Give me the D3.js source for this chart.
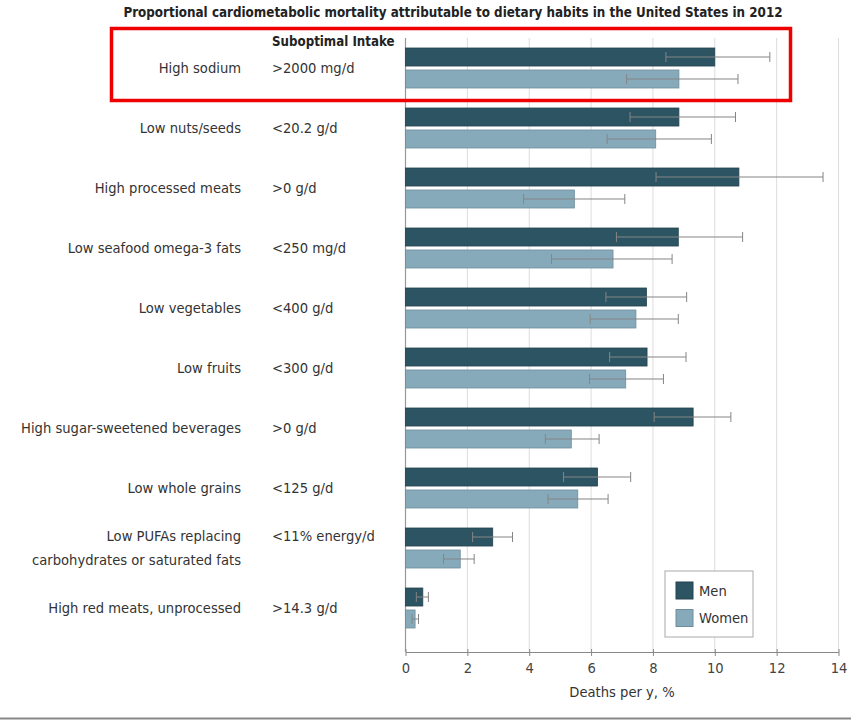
<!DOCTYPE html>
<html>
<head>
<meta charset="utf-8">
<script src="https://cdn.jsdelivr.net/npm/d3@7"></script>
<style>
body { margin: 0; background: #fff; }
svg { display: block; font-family: "Liberation Sans Narrow", "DejaVu Sans Condensed", sans-serif; }
</style>
</head>
<body>
<script>
// categories and intake thresholds
var categories = ["High sodium", "Low nuts/seeds", "High processed meats", "Low seafood omega-3 fats",
  "Low vegetables", "Low fruits", "High sugar-sweetened beverages", "Low whole grains",
  "Low PUFAs replacing|carbohydrates or saturated fats", "High red meats, unprocessed"];
var intake = [">2000 mg/d", "<20.2 g/d", ">0 g/d", "<250 mg/d", "<400 g/d", "<300 g/d",
  ">0 g/d", "<125 g/d", "<11% energy/d", ">14.3 g/d"];

// deaths per y, % (value, lower CI, upper CI)
var menVal   = [10.0, 8.84, 10.78, 8.82, 7.79, 7.81, 9.30, 6.21, 2.82, 0.56];
var menLow   = [8.42, 7.26, 8.10, 6.82, 6.48, 6.60, 8.04, 5.11, 2.17, 0.35];
var menHigh  = [11.78, 10.67, 13.50, 10.90, 9.09, 9.07, 10.52, 7.28, 3.46, 0.74];
var womenVal  = [8.84, 8.09, 5.46, 6.71, 7.45, 7.12, 5.36, 5.57, 1.77, 0.31];
var womenLow  = [7.15, 6.52, 3.82, 4.72, 5.97, 5.95, 4.52, 4.61, 1.23, 0.21];
var womenHigh = [10.75, 9.89, 7.09, 8.62, 8.82, 8.34, 6.26, 6.55, 2.22, 0.42];

var xTicks = [0, 2, 4, 6, 8, 10, 12, 14];
var groups = ["Men", "Women"];
var colors = {Men: "#2d5462", Women: "#87aabb"};
var strokes = {Men: "#24434e", Women: "#6d8d9b"};

var width = 851, height = 720;
var svg = d3.select("body").append("svg")
  .attr("width", width)
  .attr("height", height);

var x = d3.scaleLinear().domain([0, 14]).range([405.5, 838.5]);
var y = d3.scaleBand().domain(categories).range([38, 638])
  .paddingInner(1/3).paddingOuter(1/6);
var y1 = d3.scaleBand().domain(groups).range([0, 40]).paddingInner(0.18);

var plotTop = 38, plotBottom = 652;
var textColor = "#333";
var labelSize = "14.6px";

// title
svg.append("text")
  .attr("x", 453).attr("y", 17)
  .attr("text-anchor", "middle")
  .style("font-weight", "bold")
  .style("font-size", "13.3px")
  .style("fill", "#222")
  .text("Proportional cardiometabolic mortality attributable to dietary habits in the United States in 2012");

// gridlines
svg.append("g").selectAll("line")
  .data(xTicks.slice(1))
  .enter().append("line")
  .attr("x1", function(d){ return x(d); })
  .attr("x2", function(d){ return x(d); })
  .attr("y1", plotTop).attr("y2", plotBottom)
  .style("stroke", "#dcdcdc").style("stroke-width", 1);

svg.append("line")
  .attr("x1", x(0)).attr("x2", x(0))
  .attr("y1", plotTop).attr("y2", plotBottom)
  .style("stroke", "#999").style("stroke-width", 1.2);

// data rows
var rows = categories.map(function(c, i){
  return {cat: c, intake: intake[i], bars: [
    {g: "Men", v: menVal[i], lo: menLow[i], hi: menHigh[i]},
    {g: "Women", v: womenVal[i], lo: womenLow[i], hi: womenHigh[i]}
  ]};
});

var row = svg.append("g").selectAll("g")
  .data(rows)
  .enter().append("g")
  .attr("transform", function(d){ return "translate(0," + y(d.cat) + ")"; });

row.selectAll("rect")
  .data(function(d){ return d.bars; })
  .enter().append("rect")
  .attr("x", x(0))
  .attr("y", function(d){ return y1(d.g); })
  .attr("width", function(d){ return x(d.v) - x(0); })
  .attr("height", y1.bandwidth())
  .style("fill", function(d){ return colors[d.g]; })
  .style("stroke", function(d){ return strokes[d.g]; })
  .style("stroke-width", 0.8);

var err = row.selectAll("g.err")
  .data(function(d){ return d.bars; })
  .enter().append("g")
  .attr("class", "err")
  .attr("transform", function(d){ return "translate(0," + (y1(d.g) + y1.bandwidth()/2) + ")"; })
  .style("stroke", "#858585").style("stroke-width", 1);
err.append("line")
  .attr("x1", function(d){ return x(d.lo); })
  .attr("x2", function(d){ return x(d.hi); });
err.append("line")
  .attr("x1", function(d){ return x(d.lo); })
  .attr("x2", function(d){ return x(d.lo); })
  .attr("y1", -5).attr("y2", 5);
err.append("line")
  .attr("x1", function(d){ return x(d.hi); })
  .attr("x2", function(d){ return x(d.hi); })
  .attr("y1", -5).attr("y2", 5);

// category labels
row.each(function(d){
  var lines = d.cat.split("|");
  var g = d3.select(this);
  var cy = y.bandwidth()/2;
  var t = g.append("text")
    .attr("x", 241)
    .attr("text-anchor", "end")
    .style("font-size", labelSize)
    .style("fill", textColor);
  lines.forEach(function(l, k){
    t.append("tspan")
      .attr("x", 241)
      .attr("y", cy + (k - (lines.length - 1)/2) * 24)
      .attr("dy", "0.35em")
      .text(l);
  });
  g.append("text")
    .attr("x", 272)
    .attr("y", cy - (lines.length - 1) * 12)
    .attr("dy", "0.35em")
    .style("font-size", labelSize)
    .style("fill", textColor)
    .text(d.intake);
});

svg.append("text")
  .attr("x", 272).attr("y", 41)
  .attr("dy", "0.35em")
  .style("font-size", "13.2px")
  .style("font-weight", "bold")
  .style("fill", "#222")
  .text("Suboptimal Intake");

// x axis
var xAxis = svg.append("g")
  .attr("transform", "translate(0," + plotBottom + ")")
  .call(d3.axisBottom(x).tickValues(xTicks).tickSizeInner(4).tickSizeOuter(0).tickPadding(7));
xAxis.select(".domain").style("stroke", "#888");
xAxis.selectAll(".tick line").attr("y1", -3).style("stroke", "#888");
xAxis.selectAll(".tick text")
  .style("font-family", "\"Liberation Sans Narrow\", \"DejaVu Sans Condensed\", sans-serif")
  .style("font-size", "14.6px")
  .style("fill", "#444");

svg.append("text")
  .attr("x", x(7)).attr("y", 692)
  .attr("dy", "0.35em")
  .attr("text-anchor", "middle")
  .style("font-size", labelSize)
  .style("fill", textColor)
  .text("Deaths per y, %");

// legend
var legend = svg.append("g").attr("transform", "translate(665,571)");
legend.append("rect")
  .attr("width", 88).attr("height", 66)
  .style("fill", "#fff").style("stroke", "#aaa").style("stroke-width", 1);
var li = legend.selectAll("g.li")
  .data(groups)
  .enter().append("g")
  .attr("class", "li")
  .attr("transform", function(d, i){ return "translate(11," + (11 + i * 27.5) + ")"; });
li.append("rect")
  .attr("width", 17).attr("height", 17)
  .style("fill", function(d){ return colors[d]; })
  .style("stroke", function(d){ return strokes[d]; });
li.append("text")
  .attr("x", 23).attr("y", 8.5)
  .attr("dy", "0.35em")
  .style("font-size", labelSize)
  .style("fill", textColor)
  .text(function(d){ return d; });

// bottom rule
svg.append("line")
  .attr("x1", 0).attr("x2", width)
  .attr("y1", 718.5).attr("y2", 718.5)
  .style("stroke", "#888").style("stroke-width", 2);

// highlight box around first row
svg.append("rect")
  .attr("x", 111.5).attr("y", 28.5)
  .attr("width", 679).attr("height", 72)
  .style("fill", "none")
  .style("stroke", "#ee0000")
  .style("stroke-width", 3.5);
</script>
</body>
</html>
